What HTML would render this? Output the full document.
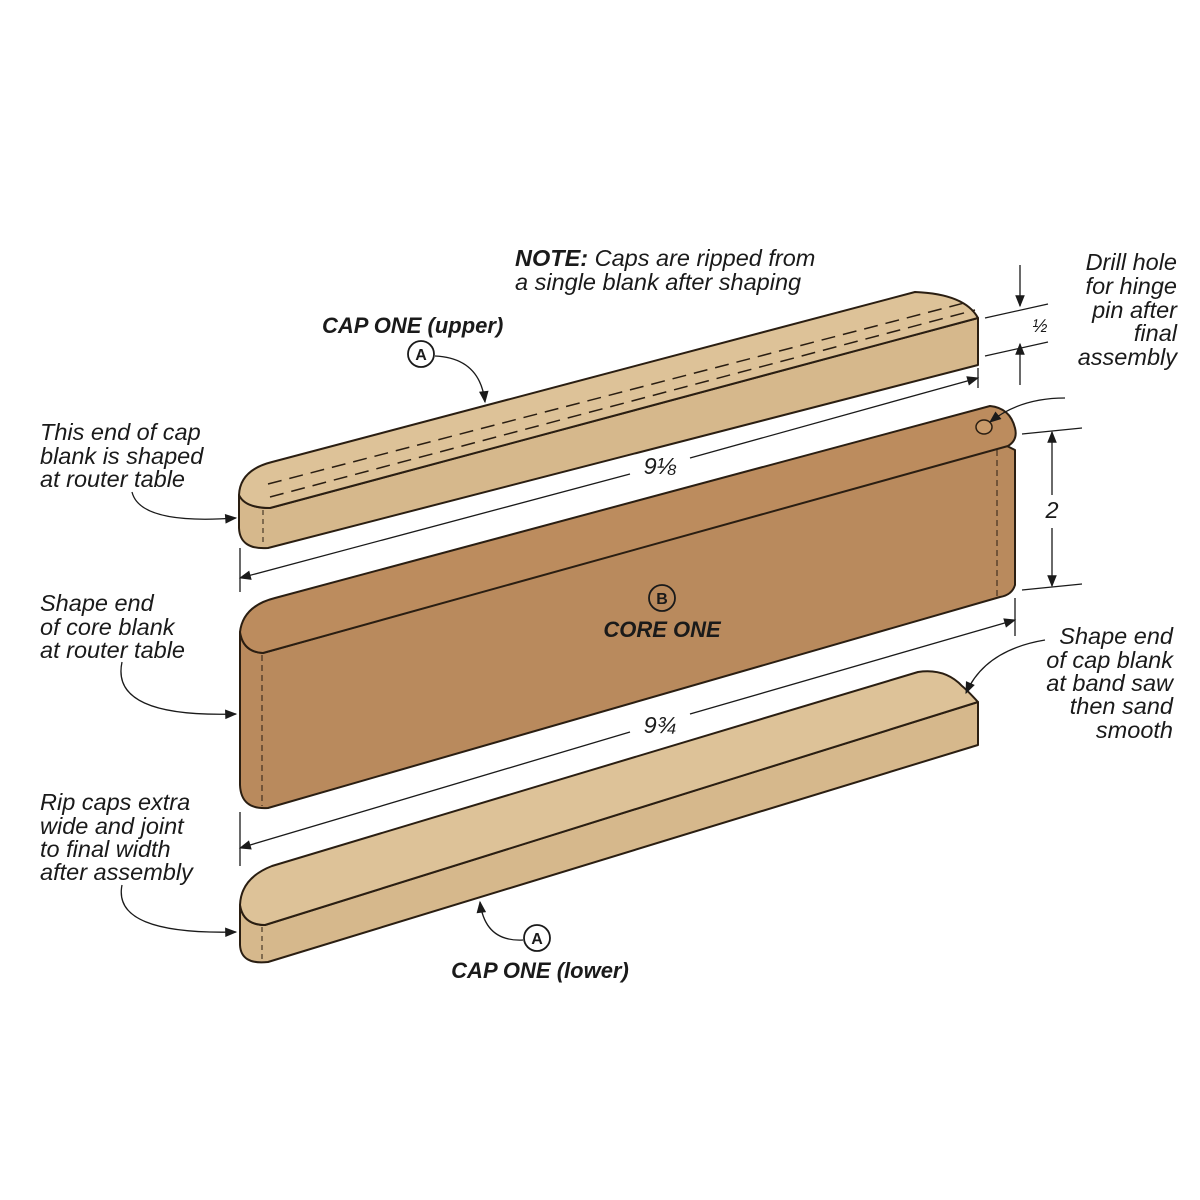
<!DOCTYPE html>
<html><head><meta charset="utf-8"><style>
html,body{margin:0;padding:0;background:#fff}
svg{display:block}
text{font-family:"Liberation Sans",sans-serif;font-style:italic;font-size:23.5px;fill:#1a1a1a}
.b{font-weight:bold}
</style></head><body>
<svg width="1200" height="1200" viewBox="0 0 1200 1200" xmlns="http://www.w3.org/2000/svg">
<defs>
<marker id="ah2" viewBox="0 0 10 10" refX="9" refY="5" markerWidth="16" markerHeight="12" orient="auto-start-reverse" markerUnits="userSpaceOnUse"><path d="M0,1 L10,5 L0,9 Z" fill="#1a1a1a"/></marker>
</defs>
<g stroke="#2a1e12" stroke-width="2" stroke-linejoin="round">
<path d="M270,508 L978,318 L978,365 L268,548 Q240,550 239,528 L239,495 Q245,508 270,508 Z" fill="#d6b88c"/>
<path d="M270,508 L978,318 Q965,294 915,292 L272,462 Q240,470 239,495 Q245,508 270,508 Z" fill="#ddc298"/>
<path d="M268,484 L968,302" stroke-dasharray="14 8" fill="none" stroke-width="1.5"/>
<path d="M270,497 L975,310" stroke-dasharray="14 8" fill="none" stroke-width="1.5"/>
<path d="M263,510 L263,546" stroke-dasharray="5 4" fill="none" stroke-width="1"/>
<path d="M263,653 L1005,445 L1015,450 L1015,585 Q1012,595 1000,597 L268,808 Q241,810 240,785 L240,632 Q243,652 263,653 Z" fill="#b98a5d"/>
<path d="M263,653 L1008,446 Q1018,440 1015,428 Q1010,408 990,406 L275,598 Q243,606 240,632 Q243,652 263,653 Z" fill="#bc8c5e"/>
<ellipse cx="984" cy="427" rx="8" ry="7" fill="#c89a6a" stroke-width="1.5"/>
<path d="M262,655 L262,806" stroke-dasharray="6 4" fill="none" stroke-width="1"/>
<path d="M997,450 L997,597" stroke-dasharray="6 4" fill="none" stroke-width="1"/>
<path d="M265,925 L978,702 L978,745 L268,962 Q241,965 240,945 L240,905 Q243,925 265,925 Z" fill="#d6b88c"/>
<path d="M265,925 L978,702 Q967,690 962,686 Q945,668 918,672 L272,866 Q241,878 240,905 Q243,925 265,925 Z" fill="#ddc298"/>
<path d="M262,927 L262,960" stroke-dasharray="5 4" fill="none" stroke-width="1"/>
</g>
<g stroke="#1a1a1a" stroke-width="1.3" fill="none">
<path d="M240,548 L240,592 M978,368 L978,388"/>
<path d="M630,474 L240,578" marker-end="url(#ah2)"/>
<path d="M690,458 L978,378" marker-end="url(#ah2)"/>
<path d="M240,812 L240,866 M1015,598 L1015,636"/>
<path d="M630,732 L240,848" marker-end="url(#ah2)"/>
<path d="M690,714 L1015,620" marker-end="url(#ah2)"/>
<path d="M1022,434 L1082,428 M1022,590 L1082,584"/>
<path d="M1052,495 L1052,432" marker-end="url(#ah2)"/>
<path d="M1052,528 L1052,586" marker-end="url(#ah2)"/>
<path d="M985,318 L1048,304 M985,356 L1048,342"/>
<path d="M1020,265 L1020,306" marker-end="url(#ah2)"/>
<path d="M1020,385 L1020,344" marker-end="url(#ah2)"/>
<path d="M435,356 Q480,358 485,402" marker-end="url(#ah2)"/>
<path d="M132,492 Q140,525 236,518" marker-end="url(#ah2)"/>
<path d="M122,662 Q110,718 236,714" marker-end="url(#ah2)"/>
<path d="M122,885 Q112,935 236,932" marker-end="url(#ah2)"/>
<path d="M1065,398 Q1020,398 990,422" marker-end="url(#ah2)"/>
<path d="M1045,640 Q985,650 966,693" marker-end="url(#ah2)"/>
<path d="M523,940 Q485,942 480,902" marker-end="url(#ah2)"/>
</g>
<g fill="none" stroke="#1a1a1a" stroke-width="1.8">
<circle cx="421" cy="354" r="13"/>
<circle cx="662" cy="598" r="13"/>
<circle cx="537" cy="938" r="13"/>
</g>
<g text-anchor="middle">
<text x="421" y="360" class="b" style="font-size:16px;font-style:normal">A</text>
<text x="662" y="604" class="b" style="font-size:16px;font-style:normal">B</text>
<text x="537" y="944" class="b" style="font-size:16px;font-style:normal">A</text>
</g>
<text x="515" y="266"><tspan class="b">NOTE:</tspan> Caps are ripped from</text>
<text x="515" y="290">a single blank after shaping</text>
<text x="322" y="333" class="b" style="font-size:22px">CAP ONE (upper)</text>
<text x="662" y="637" class="b" text-anchor="middle" style="font-size:22px">CORE ONE</text>
<text x="540" y="978" class="b" text-anchor="middle" style="font-size:22px">CAP ONE (lower)</text>
<text x="40" y="440">This end of cap</text>
<text x="40" y="464">blank is shaped</text>
<text x="40" y="487">at router table</text>
<text x="40" y="611">Shape end</text>
<text x="40" y="635">of core blank</text>
<text x="40" y="658">at router table</text>
<text x="40" y="810">Rip caps extra</text>
<text x="40" y="834">wide and joint</text>
<text x="40" y="857">to final width</text>
<text x="40" y="880">after assembly</text>
<g text-anchor="end">
<text x="1177" y="270">Drill hole</text>
<text x="1177" y="294">for hinge</text>
<text x="1177" y="318">pin after</text>
<text x="1177" y="341">final</text>
<text x="1177" y="365">assembly</text>
<text x="1173" y="644">Shape end</text>
<text x="1173" y="668">of cap blank</text>
<text x="1173" y="691">at band saw</text>
<text x="1173" y="714">then sand</text>
<text x="1173" y="738">smooth</text>
</g>
<text x="660" y="474" text-anchor="middle">9⅛</text>
<text x="660" y="733" text-anchor="middle">9¾</text>
<text x="1052" y="518" text-anchor="middle">2</text>
<text x="1040" y="332" text-anchor="middle" style="font-size:18px">½</text>
</svg>
</body></html>
